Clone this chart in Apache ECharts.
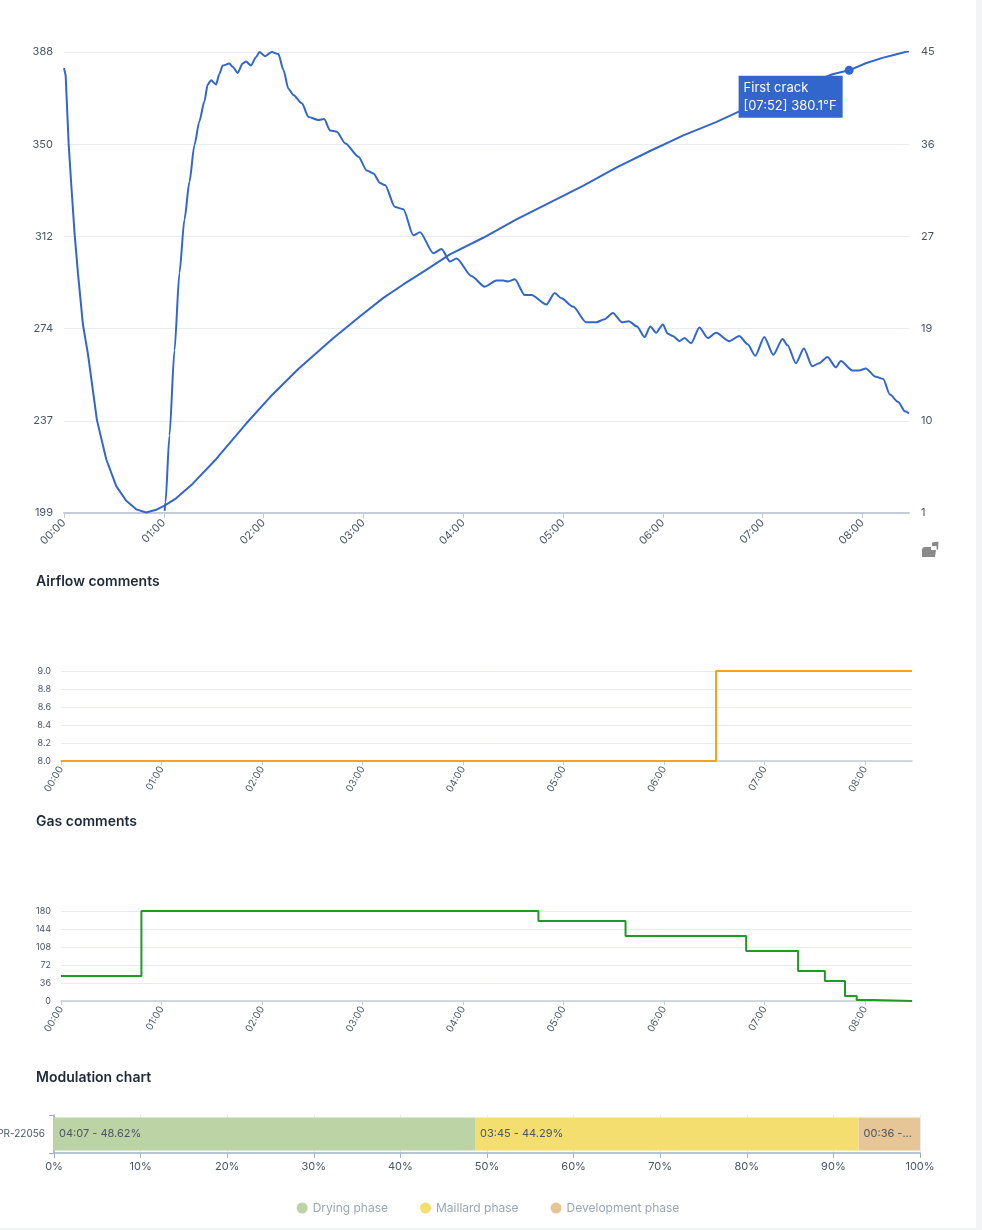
<!DOCTYPE html>
<html>
<head>
<meta charset="UTF-8">
<title>Roast profile</title>
<script src="https://cdn.jsdelivr.net/npm/echarts@6/dist/echarts.min.js"></script>
<style>
  html, body { margin: 0; padding: 0; background: #f3f4f6; }
  #page { position: relative; width: 976px; height: 1228px; background: #fff; font-family: Inter, sans-serif; }
  .chart { position: absolute; left: 0; width: 976px; }
</style>
</head>
<body>
<div id="page">
  <div id="profile" class="chart" style="top:0;height:565px;"></div>
  <div id="airflow" class="chart" style="top:565px;height:240px;"></div>
  <div id="gas" class="chart" style="top:805px;height:250px;"></div>
  <div id="modulation" class="chart" style="top:1055px;height:173px;"></div>
</div>
<script type="text/javascript">
// bean temperature (°F), seconds from start
var btTimes  = [0, 1, 2.8, 4.4, 6.4, 8.4, 11.4, 14.4, 19.8, 25.4, 31.4, 37.4, 43.4, 49.4, 55.4, 60.4, 67.4, 77.4, 91.4, 109.4, 125.4, 141, 162, 178, 192, 204, 218, 232, 252, 272, 292, 312, 332, 352, 372, 392, 405, 420, 435, 450, 462, 472, 482, 492, 500, 508];
var btValues = [381, 378, 350, 333, 313, 297, 276, 264, 237, 221, 210, 204, 200.5, 199.2, 200.3, 202, 205, 211, 221, 235.5, 247.5, 258, 270.6, 279.5, 287, 292.5, 298.6, 304.8, 311.6, 319.1, 326, 332.8, 340.3, 347, 353.4, 358.9, 363, 367.2, 371.3, 375.3, 378.5, 380.1, 383, 385.2, 386.6, 388];

// rate of rise
var rorTimes  = [60.5, 61, 63.4, 66.4, 69.4, 72.4, 75.4, 78.4, 81.4, 84.4, 86.4, 88.4, 91.4, 93.4, 95.4, 99.4, 101.4, 104.4, 107.4, 109.4, 112.4, 115.4, 117.5, 120.9, 124.9, 128.9, 131.9, 134.9, 137.9, 143, 147, 153, 156.4, 160, 164, 169, 177, 182, 186, 190, 193, 199, 204, 210, 214, 222, 227, 232, 236, 245, 253, 260, 264, 267, 271, 277, 281, 290, 295, 299, 306, 314, 320, 325, 330, 335.5, 339.5, 344.5, 349, 352.5, 356, 360, 363, 366, 370, 373, 377, 382, 387, 392, 400, 406, 411, 415.6, 421, 426.4, 432, 435, 440, 444.8, 449.8, 454, 459, 464, 467, 474, 478, 482, 488, 492.5, 496.5, 501.5, 505.6, 508];
var rorValues = [1.2, 2, 8.4, 16.5, 23.9, 29, 32.6, 36.1, 38.4, 40.3, 41.9, 42.3, 41.9, 42.9, 43.7, 43.9, 43.6, 43, 43.9, 44.1, 43.7, 44.5, 45, 44.6, 45, 44.8, 43.3, 41.5, 40.9, 40.1, 38.8, 38.5, 38.6, 37.5, 37.4, 36.3, 35, 33.7, 33.4, 32.5, 32.3, 30.2, 30, 27.5, 27.8, 25.8, 26.2, 25, 25.3, 23.6, 22.6, 23.2, 23.2, 23.1, 23.3, 21.8, 21.8, 20.9, 22, 21.5, 20.7, 19.2, 19.2, 19.5, 20.1, 19.2, 19.3, 18.8, 17.8, 18.8, 18.2, 19, 18.1, 17.9, 17.4, 17.7, 17.2, 18.7, 17.7, 18.2, 17.4, 17.9, 17.1, 16, 17.8, 16.1, 17.6, 17, 15.3, 16.7, 15, 15.3, 15.9, 14.9, 15.5, 14.6, 14.6, 14.8, 14, 13.8, 12.3, 11.6, 10.7, 10.5];

var firstCrackTime = 472;
var firstCrackTemp = 380.1;
var roastEnd = 508;

// airflow / gas setpoints (step changes)
var airflowTimes  = [0, 391, 508];
var airflowValues = [8, 9, 9];
var gasTimes  = [0, 48, 285, 337, 409, 440, 456, 468, 475, 485, 508];
var gasValues = [50, 180, 160, 130, 100, 60, 40, 10, 2, 0, 0];

// phases
var roastName = 'PR-22056';
var phaseNames = ['Drying phase', 'Maillard phase', 'Development phase'];
var phaseDurations = ['04:07', '03:45', '00:36'];
var phasePercents = [48.62, 44.29, 7.09];

function pairs(xs, ys) {
    var out = [];
    for (var i = 0; i < xs.length; i++) out.push([xs[i], ys[i]]);
    return out;
}
function mmss(v) {
    var m = Math.floor(v / 60), s = Math.round(v % 60);
    return (m < 10 ? '0' : '') + m + ':' + (s < 10 ? '0' : '') + s;
}

var FONT = 'Inter';
var blue = '#3366cc';
var axisGray = '#c3ccd7';
var splitGray = '#e8ecf0';
var labelGray = '#4b5563';

// main profile chart
var profile = echarts.init(document.getElementById('profile'));
profile.setOption({
    textStyle: { fontFamily: FONT },
    animation: false,
    // small toolbar glyph under the right axis
    graphic: [{
        type: 'polygon',
        shape: { points: [[924, 547], [931, 547], [931, 550], [936, 550], [935, 557], [922, 557], [922, 549]] },
        style: { fill: '#8a8a8a' }
    }, {
        type: 'polygon',
        shape: { points: [[932, 542.5], [938.5, 541.5], [938, 549.5], [936.5, 549.5], [936.5, 546], [932, 546]] },
        style: { fill: '#8a8a8a' }
    }],
    grid: { left: 64, right: 67, top: 52, height: 461, outerBoundsMode: 'none' },
    xAxis: {
        type: 'value', min: 0, max: roastEnd, interval: 60,
        axisLine: { lineStyle: { color: axisGray, width: 2 } },
        axisTick: { show: true, length: 5, lineStyle: { color: axisGray } },
        splitLine: { show: false },
        axisLabel: { rotate: 45, fontSize: 11, color: labelGray, margin: 8, showMaxLabel: false, formatter: mmss }
    },
    yAxis: [{
        type: 'value', min: 199, max: 387.6, interval: 37.72,
        axisLine: { show: false }, axisTick: { show: false },
        splitLine: { lineStyle: { color: splitGray } },
        axisLabel: { fontSize: 11, color: labelGray, margin: 11, formatter: function (v) { return Math.round(v); } }
    }, {
        type: 'value', min: 1, max: 45, interval: 8.8,
        axisLine: { show: false }, axisTick: { show: false },
        splitLine: { show: false },
        axisLabel: { fontSize: 11, color: labelGray, margin: 12, formatter: function (v) { return Math.round(v); } }
    }],
    series: [{
        name: 'BT', type: 'line', yAxisIndex: 0, data: pairs(btTimes, btValues),
        showSymbol: false, smooth: false,
        lineStyle: { color: blue, width: 2 }, itemStyle: { color: blue },
        markPoint: {
            symbol: 'circle', symbolSize: 9,
            itemStyle: { color: blue },
            data: [{ coord: [firstCrackTime, firstCrackTemp], name: 'First crack' }],
            label: {
                show: true,
                formatter: 'First crack\n[' + mmss(firstCrackTime) + '] ' + firstCrackTemp + '°F',
                position: [-106, 10],
                backgroundColor: blue, color: '#fff', fontSize: 13, lineHeight: 18,
                padding: [3, 6, 3, 5], fontFamily: FONT
            }
        }
    }, {
        name: 'RoR', type: 'line', yAxisIndex: 1, data: pairs(rorTimes, rorValues),
        showSymbol: false, smooth: 0.25, smoothMonotone: 'x',
        lineStyle: { color: blue, width: 2 }, itemStyle: { color: blue }
    }]
});

function stepChart(id, title, times, values, color, yMin, yMax, yInterval, digits) {
    var c = echarts.init(document.getElementById(id));
    c.setOption({
        textStyle: { fontFamily: FONT },
        animation: false,
        title: { text: title, left: 31, top: 5, textStyle: { fontSize: 14, fontWeight: 600, color: '#1f2937', fontFamily: FONT } },
        grid: { left: 61, right: 64, top: 106, height: 90, outerBoundsMode: 'none' },
        xAxis: {
            type: 'value', min: 0, max: roastEnd, interval: 60,
            axisLine: { lineStyle: { color: axisGray, width: 1.5 } },
            axisTick: { show: true, length: 4, lineStyle: { color: axisGray } },
            splitLine: { show: false },
            axisLabel: { rotate: 60, fontSize: 10, color: labelGray, margin: 6, showMaxLabel: false, formatter: mmss }
        },
        yAxis: {
            type: 'value', min: yMin, max: yMax, interval: yInterval,
            axisLine: { show: false }, axisTick: { show: false },
            splitLine: { lineStyle: { color: splitGray } },
            axisLabel: { fontSize: 9, color: labelGray, margin: 10, formatter: function (v) { return v.toFixed(digits); } }
        },
        series: [{
            type: 'line', step: 'end', data: pairs(times, values), showSymbol: false,
            lineStyle: { color: color, width: 2 }, itemStyle: { color: color }
        }]
    });
    return c;
}
stepChart('airflow', 'Airflow comments', airflowTimes, airflowValues, '#f8a11c', 8, 9, 0.2, 1);
stepChart('gas', 'Gas comments', gasTimes, gasValues, '#1f9a24', 0, 180, 36, 0);

// phase bar
var phaseColors = ['#bbd3a5', '#f4de70', '#e6c596'];
var modulation = echarts.init(document.getElementById('modulation'));
var barSeries = [];
for (var i = 0; i < phaseNames.length; i++) {
    barSeries.push({
        name: phaseNames[i], type: 'bar', stack: 'phase', barWidth: 33,
        data: [phasePercents[i]],
        itemStyle: { color: phaseColors[i] },
        label: {
            show: true, position: 'insideLeft', distance: 5,
            fontSize: 11, color: labelGray, width: i === 2 ? 53 : null, overflow: 'truncate',
            formatter: (function (k) { return function () { return phaseDurations[k] + ' - ' + phasePercents[k].toFixed(2) + '%'; }; })(i)
        }
    });
}
modulation.setOption({
    textStyle: { fontFamily: FONT },
    animation: false,
    title: { text: 'Modulation chart', left: 31, top: 11, textStyle: { fontSize: 14, fontWeight: 600, color: '#1f2937', fontFamily: FONT } },
    grid: { left: 54, right: 56, top: 60, height: 38, outerBoundsMode: 'none' },
    legend: {
        bottom: 9, icon: 'circle', itemWidth: 11, itemHeight: 11, itemGap: 32,
        textStyle: { color: '#9ba6b5', fontSize: 12, fontFamily: FONT },
        data: phaseNames
    },
    xAxis: {
        type: 'value', min: 0, max: 100, interval: 10,
        axisLine: { show: true, lineStyle: { color: '#a3b1c2', width: 1.5 } },
        axisTick: { show: true, length: 5, lineStyle: { color: '#a3b1c2' } },
        splitLine: { lineStyle: { color: splitGray } },
        axisLabel: { fontSize: 11, color: labelGray, margin: 8, formatter: '{value}%' }
    },
    yAxis: {
        type: 'category', data: [roastName],
        axisLine: { show: true, lineStyle: { color: '#a3b1c2', width: 1.5 } },
        axisTick: { show: true, length: 5, lineStyle: { color: '#a3b1c2' } },
        axisLabel: { fontSize: 10, color: labelGray, margin: 9 }
    },
    series: barSeries
});
</script>
</body>
</html>
